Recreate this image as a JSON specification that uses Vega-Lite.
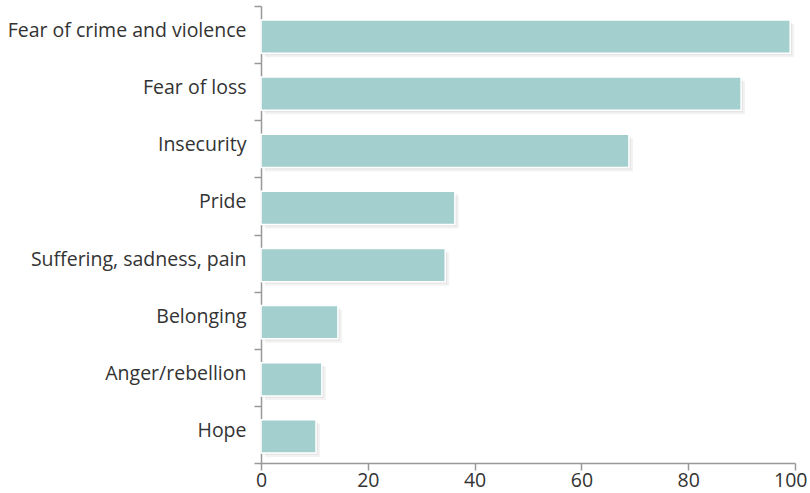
{
  "$schema": "https://vega.github.io/schema/vega-lite/v6.json",
  "width": 534,
  "height": 457,
  "autosize": "none",
  "padding": {"left": 261, "top": 6, "right": 15, "bottom": 30},
  "background": "white",
  "data": {"values": [
    {"category": "Fear of crime and violence", "value": 99.1},
    {"category": "Fear of loss", "value": 89.9},
    {"category": "Insecurity", "value": 68.9},
    {"category": "Pride", "value": 36.3},
    {"category": "Suffering, sadness, pain", "value": 34.5},
    {"category": "Belonging", "value": 14.4},
    {"category": "Anger/rebellion", "value": 11.4},
    {"category": "Hope", "value": 10.3}
  ]},
  "encoding": {
    "y": {"field": "category", "type": "nominal", "sort": null,
      "scale": {"paddingInner": 0, "paddingOuter": 0},
      "axis": {"title": null, "tickBand": "extent", "domainColor": "#999", "tickColor": "#999", "tickSize": 7, "domainWidth": 1.5, "tickWidth": 1.5, "labelFont": "Open Sans", "labelFontSize": 19.5, "labelColor": "#333", "labelPadding": 8, "labelOffset": -4, "labelLimit": 300}},
    "x": {"field": "value", "type": "quantitative",
      "scale": {"domain": [0, 100], "nice": false},
      "axis": {"title": null, "values": [0, 20, 40, 60, 80, 100], "grid": false, "domainColor": "#999", "tickColor": "#999", "tickSize": 7, "domainWidth": 1.5, "tickWidth": 1.5, "labelFont": "Open Sans", "labelFontSize": 19.5, "labelColor": "#333", "labelPadding": 1, "labelFlush": false,
        "labelAlign": {"condition": {"test": "datum.value == 100", "value": "right"}, "value": "center"},
        "labelOffset": {"condition": {"test": "datum.value == 100", "value": 12}, "value": 0}}}
  },
  "layer": [
    {"mark": {"type": "bar", "height": {"band": 0.58}, "color": "#000", "opacity": 0.05, "xOffset": 4, "yOffset": 6}},
    {"mark": {"type": "bar", "height": {"band": 0.58}, "color": "#000", "opacity": 0.05, "xOffset": 2, "yOffset": 4}},
    {"mark": {"type": "bar", "height": {"band": 0.58}, "color": "#a3cfcf", "stroke": "#ffffff", "strokeWidth": 1.5, "yOffset": 2}}
  ],
  "config": {"view": {"stroke": null}}
}
